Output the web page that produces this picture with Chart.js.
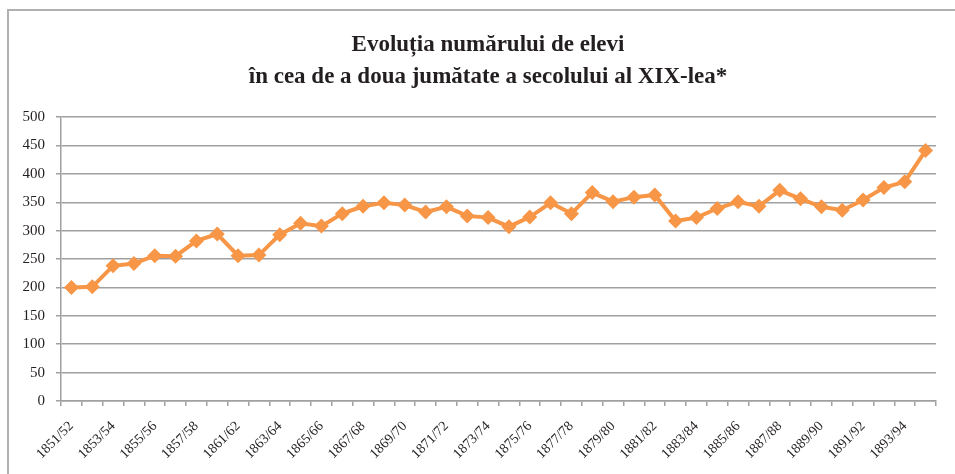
<!DOCTYPE html>
<html>
<head>
<meta charset="utf-8">
<script src="https://cdn.jsdelivr.net/npm/chart.js@4/dist/chart.umd.min.js"></script>
<style>
  html, body { margin: 0; padding: 0; background: #fff; }
  #wrap { position: relative; width: 955px; height: 474px; }
  #frame { position: absolute; left: 7px; top: 9px; width: 960px; height: 480px;
           border-top: 2px solid #b0b0b0; border-left: 2px solid #b0b0b0; }
  canvas { position: absolute; left: 0; top: 0; }
</style>
</head>
<body>
<div id="wrap">
  <div id="frame"></div>
  <canvas id="chart" width="955" height="474"></canvas>
</div>
<script>
const years = [
  "1851/52", "1852/53", "1853/54", "1854/55", "1855/56", "1856/57", "1857/58", "1859/60",
  "1861/62", "1862/63", "1863/64", "1864/65", "1865/66", "1866/67", "1867/68", "1868/69",
  "1869/70", "1870/71", "1871/72", "1872/73", "1873/74", "1874/75", "1875/76", "1876/77",
  "1877/78", "1878/79", "1879/80", "1880/81", "1881/82", "1882/83", "1883/84", "1884/85",
  "1885/86", "1886/87", "1887/88", "1888/89", "1889/90", "1890/91", "1891/92", "1892/93",
  "1893/94", "1894/95"
];

const pupils = [
  200, 201, 238, 242, 256, 255, 282, 294,
  256, 257, 293, 313, 308, 330, 343, 349,
  345, 333, 342, 326, 323, 307, 324, 349,
  330, 367, 351, 359, 363, 317, 323, 339,
  351, 343, 371, 356, 342, 336, 354, 376,
  386, 441
];

const yTicks = [0, 50, 100, 150, 200, 250, 300, 350, 400, 450, 500];

const serif = "'Liberation Serif', 'DejaVu Serif', serif";

// the title sits a bit right of the canvas centre in the original
const shiftTitle = {
  id: "shiftTitle",
  afterLayout(chart) {
    if (chart.titleBlock) chart.titleBlock.left = 40;
  }
};

new Chart(document.getElementById("chart"), {
  type: "line",
  data: {
    labels: years,
    datasets: [{
      data: pupils,
      borderColor: "#f79646",
      backgroundColor: "#f79646",
      borderWidth: 4,
      pointStyle: "rectRot",
      pointRadius: 7.5,
      pointBorderWidth: 0,
      tension: 0
    }]
  },
  plugins: [shiftTitle],
  options: {
    responsive: false,
    animation: false,
    layout: { padding: { left: 0, right: 19, top: 0, bottom: 0 } },
    plugins: {
      legend: { display: false },
      tooltip: { enabled: false },
      title: {
        display: true,
        text: ["Evoluția numărului de elevi", "în cea de a doua jumătate a secolului al XIX-lea*"],
        color: "#231f20",
        font: { family: serif, size: 23, weight: "bold", lineHeight: 1.35 },
        padding: { top: 30, bottom: 25 }
      }
    },
    scales: {
      x: {
        offset: true,
        grid: { offset: true, drawOnChartArea: false, drawTicks: true, tickLength: 5, color: "#a0a0a0", lineWidth: 1.5 },
        border: { color: "#a0a0a0", width: 1.5 },
        ticks: {
          autoSkip: false,
          maxRotation: 45,
          minRotation: 45,
          padding: 12,
          color: "#231f20",
          font: { family: serif, size: 14 },
          callback: function (v, i) { return i % 2 === 0 ? years[i] : ""; }
        },
        afterFit: function (s) { s.height = 73; }
      },
      y: {
        min: 0,
        max: 500,
        afterBuildTicks: function (s) { s.ticks = yTicks.map(v => ({ value: v })); },
        grid: { color: "#a0a0a0", lineWidth: 1.5, tickLength: 5 },
        border: { color: "#a0a0a0", width: 1.5 },
        ticks: {
          color: "#231f20",
          padding: 11,
          font: { family: serif, size: 15 }
        },
        afterFit: function (s) { s.width = 61; }
      }
    }
  }
});
</script>
</body>
</html>
